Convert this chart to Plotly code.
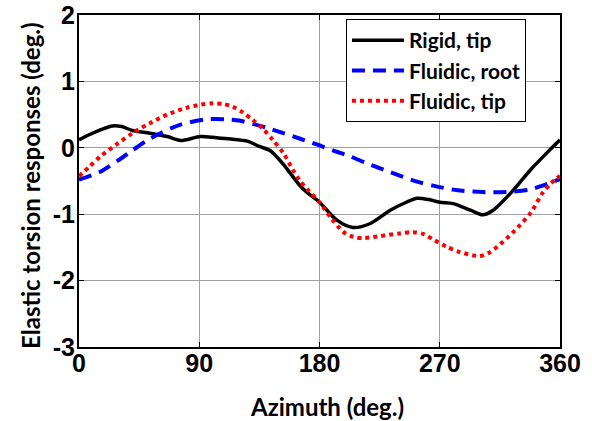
import plotly.graph_objects as go

# Rigid, tip
rigid_x = [0, 8, 16, 25, 32, 40, 53, 66, 76, 91, 103, 115, 126, 135, 143, 153, 158, 165, 170, 180, 193, 205, 218, 233, 245, 253, 262, 270, 280, 293, 302, 310, 325, 338, 350, 360]
rigid_y = [0.12, 0.2, 0.27, 0.33, 0.32, 0.26, 0.22, 0.17, 0.11, 0.17, 0.15, 0.13, 0.1, 0.02, -0.04, -0.25, -0.38, -0.56, -0.66, -0.82, -1.09, -1.2, -1.14, -0.94, -0.82, -0.76, -0.78, -0.82, -0.84, -0.94, -1.01, -0.94, -0.64, -0.33, -0.08, 0.12]

# Fluidic, root
root_x = [0, 16, 30, 40, 50, 61, 76, 96, 110, 120, 130, 141, 153, 165, 178, 190, 203, 215, 228, 240, 253, 265, 280, 295, 310, 325, 337, 347, 360]
root_y = [-0.48, -0.36, -0.18, -0.04, 0.1, 0.22, 0.35, 0.43, 0.43, 0.41, 0.36, 0.3, 0.22, 0.14, 0.05, -0.04, -0.13, -0.23, -0.33, -0.42, -0.51, -0.57, -0.63, -0.66, -0.67, -0.66, -0.63, -0.57, -0.47]

# Fluidic, tip
tip_x = [0, 8, 16, 28, 40, 53, 66, 80, 91, 100, 108, 115, 122, 130, 137, 145, 153, 160, 165, 172, 180, 188, 198, 205, 213, 225, 240, 250, 258, 265, 275, 285, 300, 307, 313, 325, 338, 347, 353, 360]
tip_y = [-0.43, -0.28, -0.13, 0.05, 0.22, 0.37, 0.5, 0.6, 0.65, 0.67, 0.66, 0.62, 0.54, 0.42, 0.3, 0.12, -0.08, -0.33, -0.49, -0.65, -0.82, -1.04, -1.27, -1.34, -1.36, -1.33, -1.29, -1.27, -1.3, -1.38, -1.49, -1.57, -1.63, -1.58, -1.49, -1.27, -0.98, -0.68, -0.54, -0.42]

x_ticks = [0, 90, 180, 270, 360]
y_ticks = [-3, -2, -1, 0, 1, 2]

fig = go.Figure()
fig.add_trace(go.Scatter(x=rigid_x, y=rigid_y, mode="lines", name="Rigid, tip",
                         line=dict(color="black", width=3.5, shape="spline", smoothing=0.8)))
fig.add_trace(go.Scatter(x=root_x, y=root_y, mode="lines", name="Fluidic, root",
                         line=dict(color="#0000ff", width=4, dash="13px,8px", shape="spline", smoothing=0.8)))
fig.add_trace(go.Scatter(x=tip_x, y=tip_y, mode="lines", name="Fluidic, tip",
                         line=dict(color="#ff0000", width=4, dash="4px,4px", shape="spline", smoothing=0.8)))

axis_common = dict(showline=True, linecolor="black", linewidth=2, mirror="ticks",
                   ticks="inside", ticklen=5, tickcolor="black", tickwidth=1,
                   showgrid=True, gridcolor="#a0a0a0", gridwidth=1, zeroline=False,
                   automargin=False,
                   tickfont=dict(family="Liberation Sans, Arial", size=25, color="black", weight="bold"))

title_font = dict(family="Lato, Open Sans", size=24, color="black", weight="bold")

fig.update_layout(
    width=592, height=421,
    margin=dict(l=79, r=32, t=15, b=74),
    paper_bgcolor="white", plot_bgcolor="white",
    showlegend=True,
    legend=dict(x=0.555, y=0.988, xanchor="left", yanchor="top",
                bordercolor="black", borderwidth=1, bgcolor="white",
                itemwidth=52,
                font=dict(family="Lato, Open Sans", size=21, color="black", weight="bold")),
    xaxis=dict(range=[0, 360], tickvals=x_ticks, ticktext=[str(v) for v in x_ticks],
               ticklabelstandoff=-7, **axis_common),
    yaxis=dict(range=[-3, 2], tickvals=y_ticks, ticktext=[str(v) for v in y_ticks],
               ticklabelstandoff=-3, **axis_common),
    annotations=[
        dict(text="Azimuth (deg.)", xref="paper", yref="paper", x=0.5156, y=-0.178,
             xanchor="center", yanchor="middle", showarrow=False, font=title_font),
        dict(text="Elastic torsion responses (deg.)", xref="paper", yref="paper", x=-0.0998, y=0.488,
             xanchor="center", yanchor="middle", textangle=-90, showarrow=False, font=title_font),
    ],
)

fig.write_html("out.html")
